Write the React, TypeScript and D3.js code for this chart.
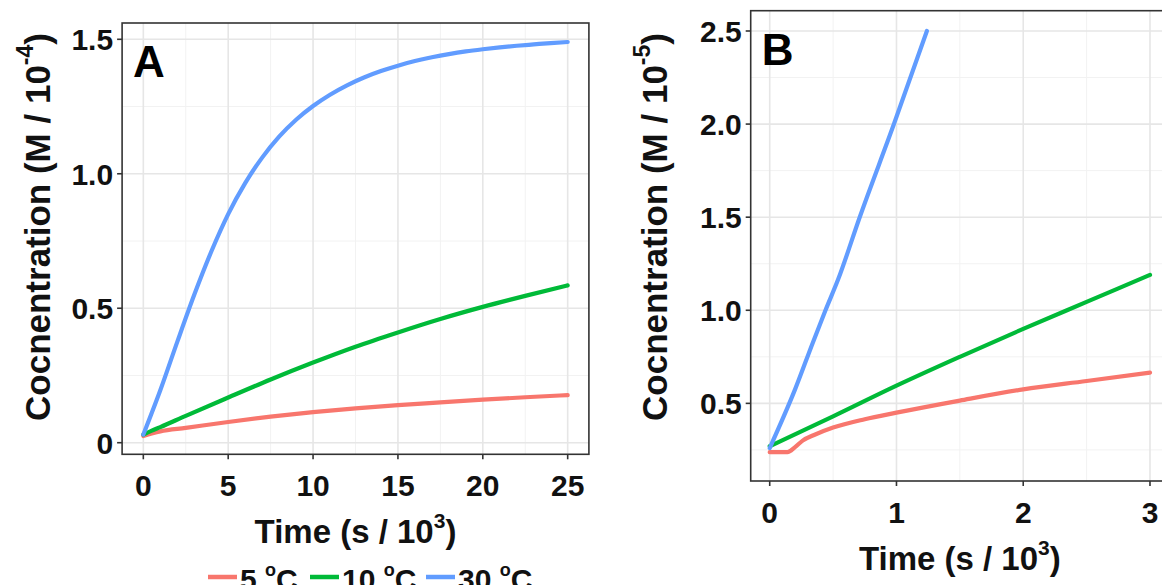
import React from "react";
import * as d3 from "d3";

// panel A (time in 10^3 s, concentration in 10^-4 M)
const tA = [0, 0.5, 1, 2.5, 5, 7.5, 10, 12.5, 15, 17.5, 20, 22.5, 25];
const red5A = [0.025, 0.034, 0.042, 0.055, 0.077, 0.097, 0.114, 0.128, 0.14, 0.15, 0.16, 0.169, 0.177];
const green10A = [0.03, 0.045, 0.058, 0.1, 0.168, 0.235, 0.298, 0.357, 0.41, 0.46, 0.505, 0.546, 0.585];
const tBlueA = [0, 1, 2, 3, 4, 5, 6, 7, 8, 9, 10, 11, 12, 13, 14, 15, 16, 17, 18, 19, 20, 21, 22, 23, 24, 25];
const blue30A = [0.03, 0.195, 0.375, 0.55, 0.71, 0.85, 0.965, 1.06, 1.138, 1.201, 1.252, 1.294, 1.329, 1.358, 1.382, 1.402, 1.419, 1.433, 1.445, 1.455, 1.463, 1.47, 1.476, 1.481, 1.486, 1.49];

// panel B (time in 10^3 s, concentration in 10^-5 M)
const tRedB = [0, 0.14, 0.2, 0.26, 0.35, 0.5, 0.75, 1.0, 1.5, 2.0, 2.5, 3.0];
const red5B = [0.238, 0.238, 0.265, 0.3, 0.33, 0.37, 0.415, 0.45, 0.515, 0.575, 0.62, 0.665];
const tGreenB = [0, 0.5, 1, 1.5, 2, 2.5, 3];
const green10B = [0.27, 0.43, 0.595, 0.75, 0.9, 1.045, 1.19];
const tBlueB = [0, 0.2, 0.34, 0.44, 0.54, 0.71, 0.98, 1.24];
const blue30B = [0.26, 0.575, 0.826, 1.0, 1.166, 1.5, 2.0, 2.5];

const xTicksA = [0, 5, 10, 15, 20, 25];
const xMinorA = [2.5, 7.5, 12.5, 17.5, 22.5];
const yTicksA = [0, 0.5, 1.0, 1.5];
const yLabelsA = ["0", "0.5", "1.0", "1.5"];
const yMinorA = [0.25, 0.75, 1.25];

const xTicksB = [0, 1, 2, 3];
const xMinorB = [0.5, 1.5, 2.5];
const yTicksB = [0.5, 1.0, 1.5, 2.0, 2.5];
const yLabelsB = ["0.5", "1.0", "1.5", "2.0", "2.5"];
const yMinorB = [0.25, 0.75, 1.25, 1.75, 2.25];

const legendLabels = ["5", "10", "30"];
const colors = ["#F8766D", "#00BA38", "#619CFF"];

const FONT = "'Liberation Sans', Arial, Helvetica, sans-serif";

type Series = { t: number[]; v: number[]; color: string };

function Panel(props: {
  box: { left: number; right: number; top: number; bottom: number };
  xDomain: [number, number];
  yDomain: [number, number];
  xTicks: number[];
  xMinor: number[];
  yTicks: number[];
  yLabels: string[];
  yMinor: number[];
  series: Series[];
  tag: string;
  exp: string;
  yTitleX: number;
}) {
  const { box, series } = props;
  const x = d3.scaleLinear().domain(props.xDomain).range([box.left, box.right]);
  const y = d3.scaleLinear().domain(props.yDomain).range([box.bottom, box.top]);
  const line = d3
    .line<[number, number]>()
    .x((d) => x(d[0]))
    .y((d) => y(d[1]))
    .curve(d3.curveMonotoneX);
  const titleCx = (box.left + box.right) / 2;

  return (
    <g fontFamily={FONT} fontWeight="bold">
      <defs>
        <clipPath id={"clip" + props.tag}>
          <rect x={box.left} y={box.top} width={box.right - box.left} height={box.bottom - box.top} />
        </clipPath>
      </defs>
      <rect x={box.left} y={box.top} width={box.right - box.left} height={box.bottom - box.top} fill="white" />
      <g clipPath={`url(#clip${props.tag})`}>
        {props.yMinor.map((d) => (
          <line key={"ym" + d} x1={box.left} x2={box.right} y1={y(d)} y2={y(d)} stroke="#F2F2F2" strokeWidth={1} />
        ))}
        {props.xMinor.map((d) => (
          <line key={"xm" + d} x1={x(d)} x2={x(d)} y1={box.top} y2={box.bottom} stroke="#F2F2F2" strokeWidth={1} />
        ))}
        {props.yTicks.map((d) => (
          <line key={"yg" + d} x1={box.left} x2={box.right} y1={y(d)} y2={y(d)} stroke="#E6E6E6" strokeWidth={1.6} />
        ))}
        {props.xTicks.map((d) => (
          <line key={"xg" + d} x1={x(d)} x2={x(d)} y1={box.top} y2={box.bottom} stroke="#E6E6E6" strokeWidth={1.6} />
        ))}
        {series.map((s, i) => (
          <path
            key={i}
            d={line(s.t.map((t, j) => [t, s.v[j]] as [number, number])) || ""}
            fill="none"
            stroke={s.color}
            strokeWidth={4.2}
            strokeLinecap="round"
          />
        ))}
      </g>
      <rect
        x={box.left}
        y={box.top}
        width={box.right - box.left}
        height={box.bottom - box.top}
        fill="none"
        stroke="#333333"
        strokeWidth={1.6}
      />
      {props.yTicks.map((d, i) => (
        <g key={"yt" + d}>
          <line x1={box.left - 5} x2={box.left} y1={y(d)} y2={y(d)} stroke="#333333" strokeWidth={1.6} />
          <text x={box.left - 9} y={y(d)} dy="0.36em" textAnchor="end" fontSize={30} fill="#111">
            {props.yLabels[i]}
          </text>
        </g>
      ))}
      {props.xTicks.map((d) => (
        <g key={"xt" + d}>
          <line x1={x(d)} x2={x(d)} y1={box.bottom} y2={box.bottom + 5} stroke="#333333" strokeWidth={1.6} />
          <text x={x(d)} y={box.bottom + 42} textAnchor="middle" fontSize={30} fill="#111">
            {d}
          </text>
        </g>
      ))}
      <text x={titleCx} y={box.bottom + 89} textAnchor="middle" fontSize={33} fill="#111">
        Time (s / 10
        <tspan fontSize={21} dy={-15}>3</tspan>
        <tspan dy={15}>)</tspan>
      </text>
      <text
        transform={`translate(${props.yTitleX},227) rotate(-90)`}
        textAnchor="middle"
        fontSize={35}
        fill="#111"
      >
        Cocnentration (M / 10
        <tspan fontSize={23} dy={-17}>{props.exp}</tspan>
        <tspan dy={17}>)</tspan>
      </text>
      <text x={box.left + 11} y={box.top + 54} fontSize={44} fill="#000">
        {props.tag}
      </text>
    </g>
  );
}

export default function App() {
  const seriesA: Series[] = [
    { t: tA, v: red5A, color: colors[0] },
    { t: tA, v: green10A, color: colors[1] },
    { t: tBlueA, v: blue30A, color: colors[2] },
  ];
  const seriesB: Series[] = [
    { t: tRedB, v: red5B, color: colors[0] },
    { t: tGreenB, v: green10B, color: colors[1] },
    { t: tBlueB, v: blue30B, color: colors[2] },
  ];
  const legendX = [208, 310, 426];

  return (
    <svg
      width={1162}
      height={585}
      style={{ position: "absolute", left: 0, top: 0, background: "white" }}
    >
      <rect width={1162} height={585} fill="white" />
      <Panel
        box={{ left: 122.1, right: 588.9, top: 23, bottom: 454.3 }}
        xDomain={[-1.25, 26.25]}
        yDomain={[-0.0431, 1.5606]}
        xTicks={xTicksA}
        xMinor={xMinorA}
        yTicks={yTicksA}
        yLabels={yLabelsA}
        yMinor={yMinorA}
        series={seriesA}
        tag="A"
        exp="-4"
        yTitleX={50}
      />
      <Panel
        box={{ left: 750.7, right: 1169, top: 10.7, bottom: 481 }}
        xDomain={[-0.15, 3.15]}
        yDomain={[0.083, 2.609]}
        xTicks={xTicksB}
        xMinor={xMinorB}
        yTicks={yTicksB}
        yLabels={yLabelsB}
        yMinor={yMinorB}
        series={seriesB}
        tag="B"
        exp="-5"
        yTitleX={667}
      />
      <g fontFamily={FONT} fontWeight="bold" fill="#111">
        {legendLabels.map((l, i) => (
          <g key={l}>
            <line x1={legendX[i]} x2={legendX[i] + 29} y1={577} y2={577} stroke={colors[i]} strokeWidth={4.5} />
            <text x={legendX[i] + 32} y={590} fontSize={30}>
              {l + "\u00a0"}
              <tspan fontSize={18} dy={-14}>o</tspan>
              <tspan dy={14}>C</tspan>
            </text>
          </g>
        ))}
      </g>
    </svg>
  );
}
